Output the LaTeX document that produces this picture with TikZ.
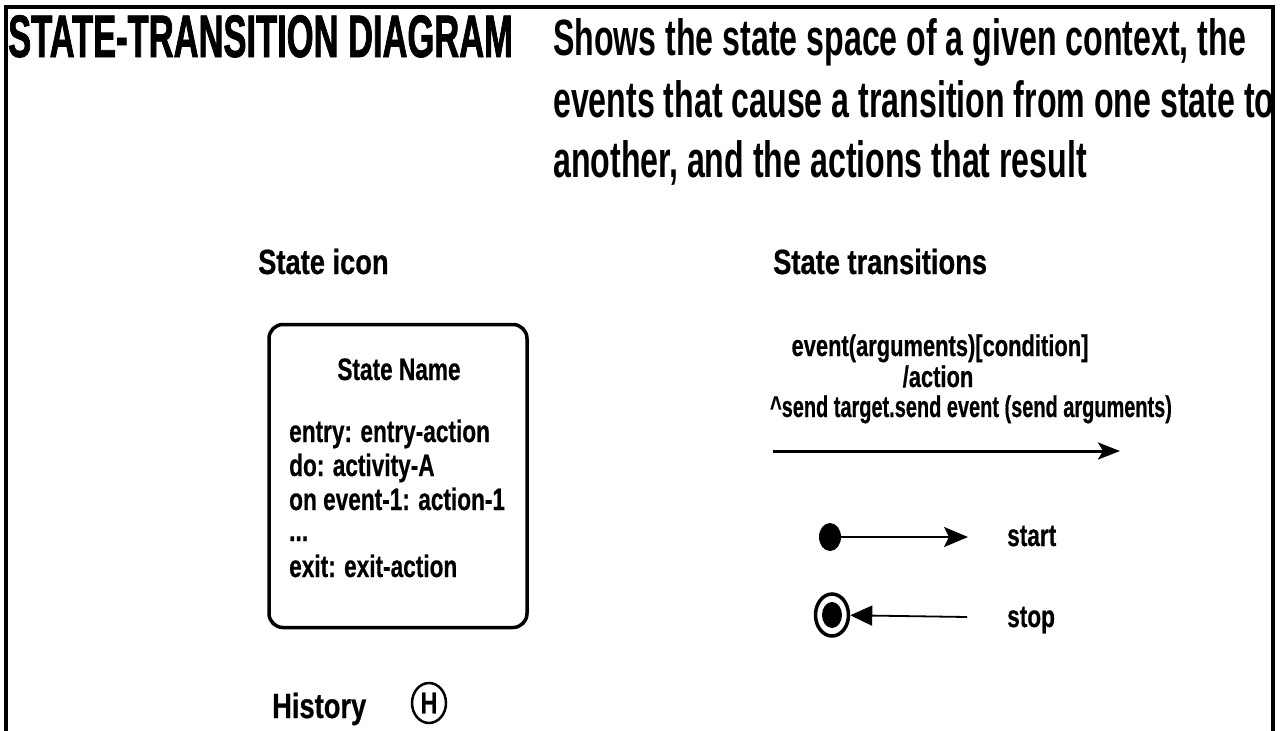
\documentclass[tikz,border=0pt]{standalone}
\usepackage{fontspec}
\setmainfont{Liberation Sans}
% condensed cuts of the same sans family
\newfontfamily\titlecond{Liberation Sans}[FakeStretch=0.575, FakeBold=1.2]
\newfontfamily\desccond{Liberation Sans}[FakeStretch=0.63]
\newfontfamily\labelcond{Liberation Sans}[FakeStretch=0.78, FakeBold=0.6]
\newfontfamily\boxcond{Liberation Sans}[FakeStretch=0.73, FakeBold=0.5]
\newfontfamily\transcond{Liberation Sans}[FakeStretch=0.73, FakeBold=0.5]
\newfontfamily\sendcond{Liberation Sans}[FakeStretch=0.665, FakeBold=0.5]
\usetikzlibrary{arrows.meta,shapes.geometric}

\tikzset{
  frame/.style={line width=4pt},
  titletext/.style={anchor=base west, inner sep=0pt,
    font=\titlecond\bfseries\fontsize{60}{64}\selectfont},
  desctext/.style={anchor=base west, inner sep=0pt,
    font=\desccond\bfseries\fontsize{51}{56}\selectfont},
  heading/.style={anchor=base west, inner sep=0pt,
    font=\labelcond\bfseries\fontsize{35}{38}\selectfont},
  boxtext/.style={inner sep=0pt,
    font=\boxcond\bfseries\fontsize{31}{34}\selectfont},
  translabel/.style={anchor=base, inner sep=0pt,
    font=\transcond\bfseries\fontsize{30}{32}\selectfont},
  statebox/.style={draw, line width=3.5pt, rounded corners=14pt},
  trans/.style={line width=3pt, -{Stealth[length=22pt,width=17pt,inset=5pt]}},
  dot/.style={ellipse, fill=black, inner sep=0pt},
}

\begin{document}
\begin{tikzpicture}[x=1pt,y=-1pt]
\useasboundingbox (0,0) rectangle (1280,731);

% outer frame, open at the bottom
\draw[frame] (5.5,731) -- (5.5,7) -- (1273,7) -- (1273,731);

% heading band
\node[titletext] (title) at (8,57) {STATE-TRANSITION DIAGRAM};
\node[desctext] (d1) at (553,55) {Shows the state space of a given context, the};
\node[desctext] (d2) at (553,117) {events that cause a transition from one state to};
\node[desctext] (d3) at (553,177) {another, and the actions that result};

% state icon
\node[heading] (iconhead) at (258,274) {State icon};
\node[statebox, minimum width=258pt, minimum height=303pt] (state) at (398,476) {};
\node[boxtext, anchor=base] (sname) at (399,380) {State Name};
\node[boxtext, anchor=base west] (l1) at (289,442) {entry: entry-action};
\node[boxtext, anchor=base west] (l2) at (289,476) {do: activity-A};
\node[boxtext, anchor=base west] (l3) at (289,510) {on event-1: action-1};
\node[boxtext, anchor=base west] (l4) at (289,541) {...};
\node[boxtext, anchor=base west] (l5) at (289,577) {exit: exit-action};

% history marker
\node[heading] (hist) at (272,718) {History};
\node[ellipse, draw, line width=2.5pt, inner sep=0pt, minimum width=34pt,
      minimum height=40pt, font=\labelcond\bfseries\fontsize{30}{34}\selectfont]
      (hmark) at (429,703) {H};

% state transitions
\node[heading] (transhead) at (773,274) {State transitions};
\node[translabel] (t1) at (940,356) {event(arguments)[condition]};
\node[translabel] (t2) at (938,387) {/action};
\node[translabel, font=\sendcond\bfseries\fontsize{30}{32}\selectfont]
      (t3) at (971,417) {\^{}send target.send event (send arguments)};
\coordinate (tfrom) at (773,451);
\coordinate (tto) at (1120,451);
\draw[trans] (tfrom) -- (tto);

% start pseudo-state
\node[dot, minimum width=22pt, minimum height=28pt] (startdot) at (830,537) {};
\coordinate (startend) at (968,537);
\draw[line width=2.5pt, -{Stealth[length=24pt,width=20pt,inset=5pt]}] (startdot) -- (startend);
\node[boxtext, anchor=base west] (startlbl) at (1007,546) {start};

% stop pseudo-state
\node[ellipse, draw, line width=3.5pt, inner sep=0pt, minimum width=33pt,
      minimum height=42pt] (stopring) at (832,615) {};
\node[dot, minimum width=20pt, minimum height=26pt] (stopdot) at (832,615) {};
\coordinate (stopfrom) at (967,617);
\draw[line width=1.8pt, -{Triangle[length=22pt,width=20pt]}] (stopfrom) -- (stopring);
\node[boxtext, anchor=base west] (stoplbl) at (1007,627) {stop};
\end{tikzpicture}
\end{document}
